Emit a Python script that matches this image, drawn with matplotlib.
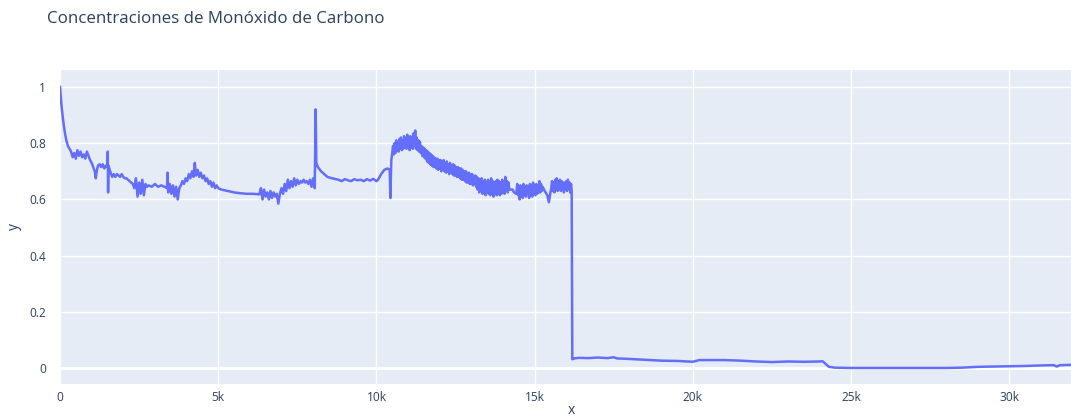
import numpy as np
import matplotlib.pyplot as plt

# CO readings (index vs normalised concentration)
head_x = [0, 20, 50, 100, 150, 200, 250, 300,
          350, 400, 450, 500, 550, 600, 650, 700, 750, 800, 850, 900,
          950, 1000, 1050, 1100, 1130, 1160, 1200,
          1250, 1300, 1350, 1400, 1450, 1500, 1510, 1520, 1530,
          1600, 1650, 1700, 1750, 1800, 1850, 1900, 1950, 2000, 2050, 2100,
          2150, 2200, 2250, 2300,
          2350, 2400, 2450, 2500, 2550, 2600, 2650, 2700, 2750,
          2800, 2900, 3000, 3100, 3200, 3300, 3380, 3400, 3420,
          3470, 3520, 3570, 3620, 3670, 3720, 3770,
          3820, 3870, 3920, 3970, 4020, 4070, 4120, 4170, 4220, 4260, 4300, 4350, 4400,
          4450, 4500, 4550, 4600, 4650, 4700, 4750, 4800, 4850, 4900, 4950, 5000,
          5100, 5300, 5500, 5700, 5900, 6100, 6300,
          6350, 6400, 6450, 6500, 6550, 6600, 6650, 6700, 6750, 6800, 6850, 6900, 6950,
          7000, 7050, 7100, 7150, 7200, 7250, 7300, 7350, 7400, 7450, 7500, 7550,
          7600, 7650, 7700, 7750, 7800, 7850, 7900, 7950, 8000, 8050,
          8080, 8100, 8150, 8250, 8350, 8450, 8600, 8800,
          8900, 9000, 9100, 9200, 9300, 9400, 9500, 9600, 9700, 9800, 9900, 10000, 10050,
          10150, 10250, 10350, 10420, 10440, 10470]
head_y = [1.0, 0.97, 0.93, 0.88, 0.84, 0.81, 0.79, 0.78,
          0.77, 0.75, 0.765, 0.745, 0.775, 0.755, 0.77, 0.75, 0.76, 0.745, 0.77, 0.755,
          0.74, 0.73, 0.715, 0.70, 0.675, 0.70, 0.72,
          0.725, 0.715, 0.725, 0.71, 0.72, 0.715, 0.77, 0.625, 0.72,
          0.695, 0.68, 0.69, 0.68, 0.69, 0.685, 0.68, 0.69, 0.68, 0.675, 0.675,
          0.67, 0.665, 0.66, 0.655,
          0.64, 0.675, 0.61, 0.66, 0.62, 0.67, 0.615, 0.655, 0.645,
          0.65, 0.645, 0.655, 0.645, 0.65, 0.645, 0.64, 0.695, 0.625,
          0.655, 0.62, 0.65, 0.61, 0.645, 0.60, 0.64,
          0.65, 0.665, 0.655, 0.675, 0.665, 0.69, 0.675, 0.70, 0.68, 0.73, 0.685, 0.705, 0.68,
          0.695, 0.675, 0.685, 0.665, 0.675, 0.655, 0.665, 0.645, 0.66, 0.64, 0.65, 0.64,
          0.635, 0.63, 0.625, 0.622, 0.62, 0.62, 0.618,
          0.64, 0.60, 0.635, 0.61, 0.625, 0.60, 0.63, 0.605, 0.625, 0.61, 0.62, 0.585, 0.62,
          0.64, 0.62, 0.655, 0.63, 0.67, 0.64, 0.665, 0.645, 0.675, 0.65, 0.67, 0.655,
          0.665, 0.66, 0.67, 0.66, 0.665, 0.655, 0.67, 0.645, 0.675, 0.64,
          0.92, 0.73, 0.715, 0.70, 0.69, 0.68, 0.675, 0.67,
          0.665, 0.672, 0.668, 0.665, 0.672, 0.668, 0.670, 0.665, 0.672, 0.667, 0.673, 0.665, 0.67,
          0.69, 0.705, 0.71, 0.705, 0.605, 0.74]

# noisy stretch after the 10k jump, sampled every 25 from 10500 to 14200
band1_start = 10500
band1 = [0.765, 0.79, 0.76, 0.80, 0.765, 0.81, 0.775, 0.80, 0.77, 0.815,
         0.78, 0.82, 0.775, 0.81, 0.78, 0.825, 0.785, 0.815, 0.78, 0.83,
         0.785, 0.815, 0.775, 0.825, 0.785, 0.82, 0.78, 0.835, 0.79, 0.845,
         0.78, 0.82, 0.775, 0.81, 0.77, 0.805, 0.765,
         0.79, 0.755, 0.785, 0.75, 0.78, 0.745, 0.775, 0.735, 0.77, 0.73,
         0.765, 0.725, 0.76, 0.72, 0.755, 0.715,
         0.75, 0.715, 0.745, 0.71, 0.745, 0.705, 0.74, 0.71, 0.74, 0.70,
         0.735, 0.705, 0.74, 0.70, 0.73, 0.695, 0.735, 0.70, 0.725, 0.69,
         0.73, 0.695, 0.72, 0.69, 0.725, 0.685, 0.72, 0.685, 0.715, 0.68,
         0.715, 0.68, 0.71, 0.675, 0.71, 0.67, 0.705, 0.67, 0.70, 0.665,
         0.70, 0.66, 0.695, 0.66, 0.695, 0.655, 0.69, 0.655, 0.69, 0.65,
         0.68, 0.655, 0.685, 0.645, 0.68, 0.635, 0.675, 0.625, 0.67, 0.63,
         0.675, 0.62, 0.665, 0.625, 0.67, 0.615, 0.66, 0.625, 0.67, 0.62,
         0.665, 0.615, 0.675, 0.62, 0.665, 0.61, 0.66, 0.62, 0.665, 0.615,
         0.67, 0.62, 0.665, 0.615, 0.66, 0.62, 0.67, 0.625, 0.665, 0.62,
         0.68, 0.63, 0.665, 0.625, 0.66, 0.635]

gap1_x = [14300, 14350, 14420]
gap1_y = [0.635, 0.625, 0.62]

band2_start = 14450
band2 = [0.655, 0.615, 0.645, 0.60, 0.65, 0.61, 0.645, 0.605, 0.655, 0.615,
         0.645, 0.61, 0.65, 0.62, 0.645, 0.605, 0.655, 0.615, 0.65, 0.61,
         0.66, 0.62, 0.65, 0.615, 0.655, 0.62, 0.65, 0.625, 0.665, 0.625,
         0.655, 0.63, 0.645]

gap2_x = [15320, 15400, 15450, 15500]
gap2_y = [0.63, 0.615, 0.59, 0.625]

band3_start = 15525
band3 = [0.64, 0.665, 0.63, 0.66, 0.625, 0.67, 0.635, 0.675, 0.63, 0.665,
         0.64, 0.67, 0.63, 0.665, 0.635, 0.66, 0.625, 0.66, 0.635, 0.665,
         0.63, 0.67, 0.64, 0.66, 0.625, 0.655]
band_step = 25

tail_x = [16170, 16190, 16250, 16400, 16700, 17000, 17300, 17500, 17600, 18000, 18500,
          19000, 19500, 20000, 20200, 21000, 21500, 22000, 22500, 23000, 23500,
          24000, 24100, 24200, 24300, 24500, 25000, 26000, 27000, 28000, 28500,
          29000, 29500, 30000, 30500, 31000, 31400, 31500, 31600, 32000]
tail_y = [0.63, 0.032, 0.035, 0.037, 0.036, 0.038, 0.036, 0.039, 0.035, 0.033, 0.030,
          0.027, 0.026, 0.023, 0.029, 0.029, 0.027, 0.024, 0.022, 0.024, 0.023,
          0.024, 0.025, 0.015, 0.005, 0.002, 0.001, 0.001, 0.001, 0.001, 0.002,
          0.005, 0.006, 0.007, 0.008, 0.010, 0.011, 0.006, 0.011, 0.012]

xticks = [0, 5000, 10000, 15000, 20000, 25000, 30000]
xtick_labels = ['0', '5k', '10k', '15k', '20k', '25k', '30k']
yticks = [0, 0.2, 0.4, 0.6, 0.8, 1]
ytick_labels = ['0', '0.2', '0.4', '0.6', '0.8', '1']

# stitch the pieces together
x = np.concatenate([head_x,
                    band1_start + band_step * np.arange(len(band1)),
                    gap1_x,
                    band2_start + band_step * np.arange(len(band2)),
                    gap2_x,
                    band3_start + band_step * np.arange(len(band3)),
                    tail_x])
y = np.concatenate([head_y, band1, gap1_y, band2, gap2_y, band3, tail_y])

plt.rcParams['font.family'] = ['Open Sans', 'DejaVu Sans']
text_col = '#2a3f5f'

fig = plt.figure(figsize=(10.71, 4.2), dpi=100)
ax = fig.add_axes([60 / 1071, 36 / 420, 1 - 60 / 1071, 314 / 420])
ax.set_facecolor('#e5ecf6')

ax.plot(x, y, color='#636efa', linewidth=1.8, solid_joinstyle='round', zorder=3)

ax.set_xlim(0, 31950)
ax.set_ylim(-0.056, 1.06)
ax.set_xticks(xticks)
ax.set_xticklabels(xtick_labels)
ax.set_yticks(yticks)
ax.set_yticklabels(ytick_labels)
ax.tick_params(length=0, labelsize=8.6, labelcolor=text_col)
ax.tick_params(axis='x', pad=5)
ax.tick_params(axis='y', pad=10)
ax.grid(True, color='white', linewidth=1)
ax.axhline(0, color='white', linewidth=2, zorder=1)
ax.set_axisbelow(True)
for s in ax.spines.values():
    s.set_visible(False)

fig.text(47 / 1071, 1 - 19 / 420, 'Concentraciones de Monóxido de Carbono',
         fontsize=12.2, color=text_col, va='center', ha='left')
fig.text(14 / 1071, 1 - 227 / 420, 'y', fontsize=10, color=text_col,
         rotation=90, va='center', ha='center')
fig.text(571 / 1071, 1 - 411 / 420, 'x', fontsize=10, color=text_col,
         va='center', ha='center')

fig.savefig('out.png', dpi=100)
